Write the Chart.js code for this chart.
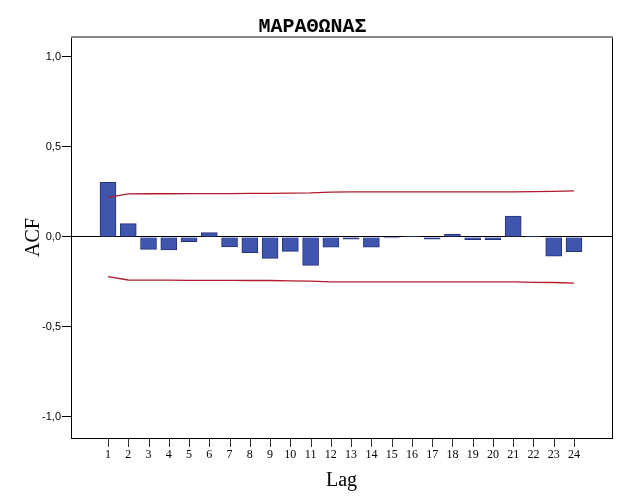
<!DOCTYPE html>
<html>
<head>
<meta charset="utf-8">
<script src="https://cdn.jsdelivr.net/npm/chart.js@4.4.1/dist/chart.umd.min.js"></script>
<style>
  html, body { margin: 0; padding: 0; background: #fff; }
  #wrap { width: 625px; height: 500px; }
</style>
</head>
<body>
<div id="wrap"><canvas id="acfChart" width="625" height="500"></canvas></div>
<script>
// Lags and autocorrelation coefficients
const lags = [1, 2, 3, 4, 5, 6, 7, 8, 9, 10, 11, 12, 13, 14, 15, 16, 17, 18, 19, 20, 21, 22, 23, 24];
const acf = [0.304, 0.074, -0.069, -0.072, -0.026, 0.024, -0.056, -0.087, -0.119, -0.080, -0.158, -0.057,
             -0.012, -0.057, -0.006, 0.004, -0.012, 0.016, -0.015, -0.015, 0.116, 0.004, -0.107, -0.082];
// Confidence limits
const upperLimit = [0.220, 0.239, 0.240, 0.240, 0.241, 0.241, 0.241, 0.242, 0.242, 0.244, 0.245, 0.249,
                    0.250, 0.250, 0.250, 0.250, 0.250, 0.250, 0.250, 0.250, 0.250, 0.252, 0.253, 0.256];
const lowerLimit = [-0.220, -0.239, -0.240, -0.240, -0.241, -0.241, -0.241, -0.242, -0.242, -0.244, -0.245, -0.249,
                    -0.250, -0.250, -0.250, -0.250, -0.250, -0.250, -0.250, -0.250, -0.250, -0.252, -0.253, -0.256];
const yTicks = [-1.0, -0.5, 0.0, 0.5, 1.0];

const toPoints = arr => arr.map((v, i) => ({ x: lags[i], y: v }));

// Tick marks under the lag axis and the grey top edge of the plot frame.
// Drawn before the datasets, so no dataset clipping can hide them.
const frame = {
    id: 'frame',
    beforeDatasetsDraw(chart) {
        const { ctx, chartArea: a } = chart;
        const xScale = chart.scales.x;

        ctx.save();
        ctx.fillStyle = '#333';
        lags.forEach(lag => {
            const px = Math.round(xScale.getPixelForValue(lag));
            ctx.fillRect(px, Math.round(a.bottom) + 1, 1, 8);
        });

        ctx.strokeStyle = '#888';
        ctx.lineWidth = 2;
        ctx.beginPath();
        ctx.moveTo(a.left, a.top);
        ctx.lineTo(a.right + 1, a.top);
        ctx.stroke();
        ctx.restore();
    }
};

new Chart(document.getElementById('acfChart'), {
    type: 'bar',
    data: {
        datasets: [
            {
                type: 'line',
                data: toPoints(upperLimit),
                borderColor: '#b01c2c',
                borderWidth: 1.3,
                pointRadius: 0,
                fill: false,
                order: 0
            },
            {
                type: 'line',
                data: toPoints(lowerLimit),
                borderColor: '#b01c2c',
                borderWidth: 1.3,
                pointRadius: 0,
                fill: false,
                order: 0
            },
            {
                data: toPoints(acf),
                backgroundColor: '#4055ad',
                borderColor: '#27337a',
                borderWidth: 1,
                barThickness: 16,
                order: 1
            }
        ]
    },
    options: {
        responsive: false,
        animation: false,
        layout: { padding: 0 },
        plugins: {
            legend: { display: false },
            tooltip: { enabled: false },
            title: {
                display: true,
                text: 'ΜΑΡΑΘΩΝΑΣ',
                color: '#000',
                font: { family: 'Liberation Mono', size: 20, weight: 'bold', lineHeight: 1 },
                padding: { top: 17, bottom: 0 }
            }
        },
        scales: {
            x: {
                type: 'linear',
                min: -0.826,
                max: 25.876,
                offset: false,
                afterBuildTicks: scale => { scale.ticks = lags.map(v => ({ value: v })); },
                afterFit: scale => { scale.height = 62; },
                grid: { drawOnChartArea: false, offset: false, tickLength: 8, tickColor: 'rgba(0,0,0,0)' },
                border: { color: '#000', width: 1 },
                ticks: {
                    color: '#000',
                    padding: 2,
                    maxRotation: 0,
                    autoSkip: false,
                    font: { family: 'Liberation Serif', size: 12 }
                },
                title: {
                    display: true,
                    text: 'Lag',
                    color: '#000',
                    font: { family: 'Liberation Serif', size: 20 },
                    padding: { top: 0, bottom: 7 }
                }
            },
            y: {
                min: -1.117,
                max: 1.111,
                afterBuildTicks: scale => { scale.ticks = yTicks.map(v => ({ value: v })); },
                afterFit: scale => { scale.width = 71; },
                grid: {
                    color: c => (c.tick && c.tick.value === 0 ? '#000' : 'rgba(0,0,0,0)'),
                    tickColor: '#000',
                    tickLength: 9
                },
                border: { color: '#000', width: 1 },
                ticks: {
                    color: '#000',
                    padding: 1,
                    font: { family: 'Liberation Sans', size: 11 },
                    callback: v => v.toFixed(1).replace('.', ',')
                },
                title: {
                    display: true,
                    text: 'ACF',
                    color: '#000',
                    font: { family: 'Liberation Serif', size: 20 },
                    padding: { top: 22, bottom: 0 }
                }
            },
            // empty right axis: reserves the right margin and draws the frame's right edge
            yRight: {
                position: 'right',
                min: -1.117,
                max: 1.111,
                afterFit: scale => { scale.width = 13; },
                grid: { display: false },
                ticks: { display: false },
                border: { color: '#000', width: 1 }
            }
        }
    },
    plugins: [frame]
});
</script>
</body>
</html>
